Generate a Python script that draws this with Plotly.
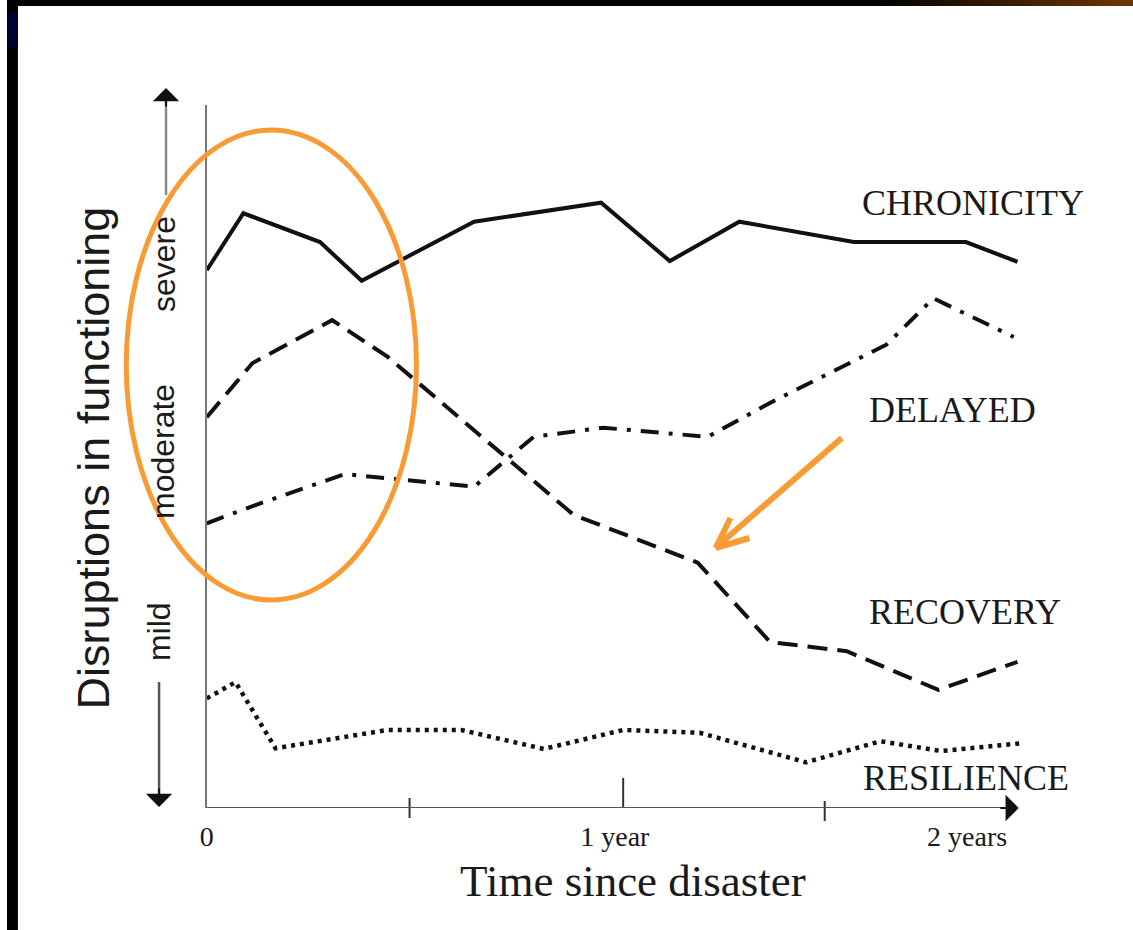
import plotly.graph_objects as go

W, H = 1133, 930

# Time since disaster, in years
chron_x = [0, 0.088, 0.272, 0.372, 0.642, 0.947, 1.112, 1.279, 1.554, 1.823, 1.947]
chron_y = [76.5, 84.6, 80.5, 75.0, 83.4, 86.1, 77.8, 83.4, 80.5, 80.5, 77.7]

recov_x = [0, 0.110, 0.301, 0.434, 0.881, 1.179, 1.353, 1.537, 1.757, 1.947]
recov_y = [55.6, 63.3, 69.4, 64.2, 41.7, 34.9, 23.6, 22.3, 16.8, 20.8]

delay_x = [0, 0.117, 0.332, 0.475, 0.642, 0.785, 0.952, 1.203, 1.358, 1.632, 1.745, 1.938]
delay_y = [40.5, 43.1, 47.5, 46.7, 45.7, 52.8, 54.1, 52.8, 57.8, 65.9, 72.5, 67.0]

resil_x = [0, 0.069, 0.165, 0.434, 0.611, 0.809, 1.0, 1.184, 1.439, 1.618, 1.764, 1.955]
resil_y = [15.6, 17.9, 8.5, 11.1, 11.1, 8.4, 11.1, 10.7, 6.5, 9.5, 8.1, 9.2]

tick_vals = [0, 0.98, 1.826]
tick_text = ["0", "1 year", "2 years"]
tick_marks = [0.487, 1.0, 1.484]

ORANGE = "#F99B35"
SERIF = "Liberation Serif, Times New Roman, serif"
SANS = "Liberation Sans, Arial, sans-serif"


def px(x):
    return x / W


def py(y):
    return 1 - y / H


def label(txt, cx, cy, family, size, angle=0):
    return dict(x=px(cx), y=py(cy), xref="paper", yref="paper", text=txt,
                showarrow=False, textangle=angle, xanchor="center", yanchor="middle",
                font=dict(family=family, size=size, color="#1a1a1a"))


fig = go.Figure()

# the four trajectories
series = [
    ("CHRONICITY", chron_x, chron_y, "solid", 4),
    ("RECOVERY", recov_x, recov_y, "20px,10px", 4),
    ("DELAYED", delay_x, delay_y, "18px,10px,4px,10px", 4),
    ("RESILIENCE", resil_x, resil_y, "4px,5px", 4.5),
]
for name, xs, ys, dash, w in series:
    fig.add_trace(go.Scatter(
        x=xs, y=ys, mode="lines", name=name,
        line=dict(color="#111", width=w, dash=dash),
        hoverinfo="skip", showlegend=False
    ))

shapes = []
annotations = []

# slide frame: top bar with brown gradient, left strip
shapes.append(dict(type="rect", xref="paper", yref="paper", x0=0, x1=1, y0=py(6), y1=1,
                   fillcolor="black", line=dict(width=0), layer="above"))
n = 40
for i in range(n):
    t = (i + 1) / n
    col = "rgb(%d,%d,%d)" % (110 * t, 55 * t, 0)
    x0 = 877 + (W - 877) * i / n
    x1 = 877 + (W - 877) * (i + 1) / n + 0.5
    shapes.append(dict(type="rect", xref="paper", yref="paper", x0=px(x0), x1=px(x1),
                       y0=py(6), y1=1, fillcolor=col, line=dict(width=0), layer="above"))
shapes.append(dict(type="rect", xref="paper", yref="paper", x0=0, x1=px(11), y0=0, y1=1,
                   fillcolor="black", line=dict(width=0), layer="above"))
shapes.append(dict(type="rect", xref="paper", yref="paper", x0=0, x1=px(11), y0=py(47), y1=py(13),
                   fillcolor="#000033", line=dict(width=0), layer="above"))

# x axis tick marks
tick_spans = [(798, 818), (778, 808), (801, 821)]
for xv, (a, b) in zip(tick_marks, tick_spans):
    shapes.append(dict(type="line", xref="x", yref="paper", x0=xv, x1=xv, y0=py(b), y1=py(a),
                       line=dict(color="#333", width=2)))

# x axis line, arrow head drawn below
shapes.append(dict(type="line", xref="x", yref="y", x0=0, x1=1.92, y0=0, y1=0,
                   line=dict(color="#555", width=2)))
annotations.append(dict(x=1.95, y=0, ax=-20, ay=0, xref="x", yref="y",
                        text="", showarrow=True, arrowhead=1, arrowsize=2.2, arrowwidth=2,
                        arrowcolor="#111"))

# severity arrows on the left: grey shaft, black head
shapes.append(dict(type="line", xref="paper", yref="paper", x0=px(160), x1=px(160),
                   y0=py(195), y1=py(98), line=dict(color="#888", width=2.5)))
annotations.append(dict(x=px(160), y=py(88), xref="paper", yref="paper", ax=0, ay=20,
                        text="", showarrow=True, arrowhead=1, arrowsize=2.2, arrowwidth=2,
                        arrowcolor="#111"))
shapes.append(dict(type="line", xref="paper", yref="paper", x0=px(153), x1=px(153),
                   y0=py(682), y1=py(797), line=dict(color="#555", width=2.5)))
annotations.append(dict(x=px(153), y=py(807), xref="paper", yref="paper", ax=0, ay=-20,
                        text="", showarrow=True, arrowhead=1, arrowsize=2.2, arrowwidth=2,
                        arrowcolor="#111"))
for txt, cx, cy in [("severe", 158, 264), ("moderate", 157, 452), ("mild", 153, 632)]:
    annotations.append(label(txt, cx, cy, SANS, 32, -90))

annotations.append(label("Disruptions in functioning", 88, 458, SANS, 45, -90))
annotations.append(label("Time since disaster", 630, 881, SERIF, 45))

# trajectory labels
for txt, cx, cy in [("CHRONICITY", 972, 203), ("DELAYED", 951, 410),
                    ("RECOVERY", 964, 612), ("RESILIENCE", 965, 778)]:
    annotations.append(label(txt, cx, cy, SERIF, 36))

# orange highlight ellipse and arrow
shapes.append(dict(type="circle", xref="paper", yref="paper", x0=px(120), x1=px(412),
                   y0=py(600), y1=py(130), line=dict(color=ORANGE, width=5)))
shapes.append(dict(type="line", xref="paper", yref="paper", x0=px(840), y0=py(438),
                   x1=px(715), y1=py(546), line=dict(color=ORANGE, width=6)))
for bx, by in [(728, 518), (747, 538)]:
    shapes.append(dict(type="line", xref="paper", yref="paper", x0=px(713), y0=py(548),
                       x1=px(bx), y1=py(by), line=dict(color=ORANGE, width=6)))

fig.update_layout(
    width=W, height=H,
    margin=dict(l=0, r=0, t=0, b=0),
    plot_bgcolor="white",
    paper_bgcolor="white",
    showlegend=False,
    shapes=shapes,
    annotations=annotations,
    xaxis=dict(
        domain=[px(201), px(1039)], range=[0, 2],
        showgrid=False, zeroline=False, showline=False, ticks="",
        tickvals=tick_vals, ticktext=tick_text, ticklabelstandoff=9,
        tickfont=dict(family=SERIF, size=28, color="#1a1a1a"),
    ),
    yaxis=dict(
        domain=[py(808), py(105)], range=[0, 100],
        showgrid=False, zeroline=False, showticklabels=False,
        showline=True, linecolor="#777", linewidth=2, ticks="",
    ),
)

pin_page = (
    "document.documentElement.style.margin='0';"
    "document.body.style.margin='0';document.body.style.overflow='hidden';"
    "var d=document.querySelector('.plotly-graph-div');"
    "d.style.position='absolute';d.style.left='0px';d.style.top='0px';"
)
fig.write_html("out.html", config={"displayModeBar": False}, post_script=pin_page)
